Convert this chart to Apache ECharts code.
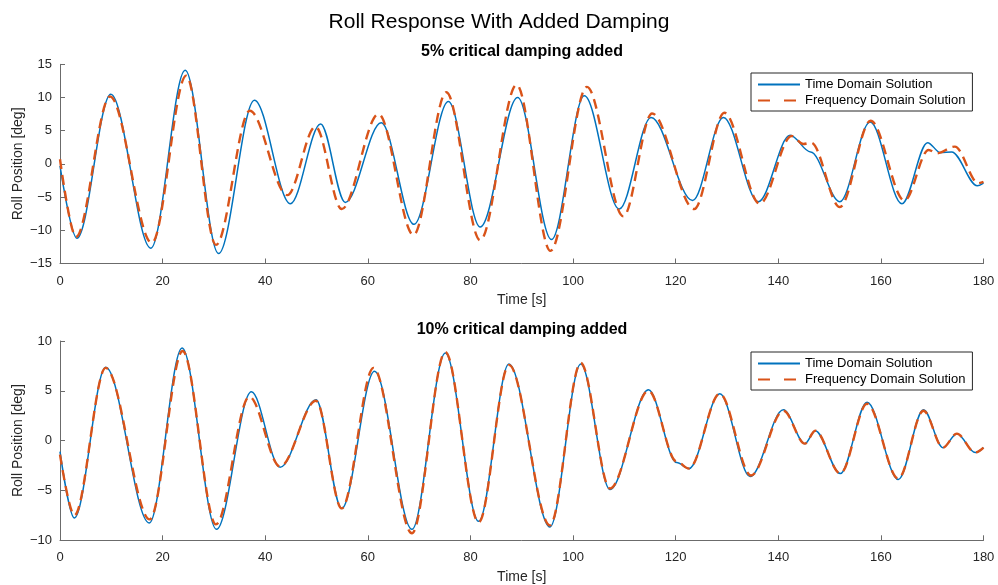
<!DOCTYPE html>
<html>
<head>
<meta charset="utf-8">
<title>Roll Response With Added Damping</title>
<script src="https://cdn.jsdelivr.net/npm/echarts@6/dist/echarts.min.js"></script>
<style>
  html, body { margin: 0; padding: 0; background: #fff; }
  #chart { width: 998px; height: 585px; }
</style>
</head>
<body>
<div id="chart"></div>
<script>
// Roll angle [deg] against time [s] as [time, value] pairs: the turning points
// (crests, troughs and flat shoulders) of each response.

// 5% critical damping added
const timeDomain5 = [
  [0, -0.3], [3.3, -11.2], [9.9, 10.5], [17.7, -12.7], [24.4, 14.1], [30.9, -13.5],
  [37.9, 9.6], [44.9, -6.0], [50.8, 6.0], [55.6, -5.8], [62.6, 6.2], [69.0, -9.1],
  [75.7, 9.4], [81.9, -9.5], [89.2, 10.0], [95.8, -11.4], [102.2, 10.25], [109.0, -6.8],
  [115.2, 7.0], [123.3, -5.5], [129.3, 7.0], [136.1, -5.7], [142.3, 4.3], [146.3, 1.8],
  [152.0, -5.7], [157.9, 6.3], [164.1, -6.0], [169.1, 3.2], [171.6, 1.7], [173.8, 1.8],
  [178.8, -3.3], [180, -2.9]
];
const freqDomain5 = [
  [0, 0.7], [3.1, -11.0], [9.75, 10.15], [17.9, -11.9], [24.6, 13.3], [30.4, -12.2],
  [37.0, 8.0], [44.3, -4.7], [49.8, 5.6], [54.9, -6.8], [62.1, 7.5], [68.9, -10.7],
  [75.3, 10.8], [81.9, -11.5], [89.0, 11.9], [95.6, -13.1], [102.7, 11.6], [109.8, -7.9],
  [115.4, 7.6], [123.6, -6.8], [129.5, 7.7], [136.4, -6.0], [142.6, 4.2], [144.9, 3.0],
  [146.4, 3.2], [152.0, -6.5], [158.0, 6.5], [164.6, -5.5], [169.3, 2.1], [170.9, 1.6],
  [174.4, 2.6], [179.0, -2.9], [180, -2.7]
];

// 10% critical damping added
const timeDomain10 = [
  [0, -1.1], [2.8, -7.76], [8.9, 7.36], [17.4, -8.26], [23.8, 9.3], [30.5, -8.9],
  [37.3, 4.9], [42.9, -2.68], [49.9, 4.1], [54.9, -6.8], [61.3, 6.96], [68.6, -8.9],
  [75.1, 8.8], [81.6, -8.1], [87.5, 7.7], [95.5, -8.66], [101.5, 7.7], [107.2, -4.9],
  [114.7, 5.1], [120.2, -2.2], [122.6, -2.8], [128.6, 4.7], [134.5, -3.6], [141.0, 3.1],
  [145.2, -0.3], [147.2, 1.0], [152.1, -3.3], [157.3, 3.85], [163.4, -3.9], [168.3, 3.1],
  [172.1, -0.7], [174.8, 0.7], [178.4, -1.2], [180, -0.7]
];
const freqDomain10 = [
  [0, -1.4], [2.8, -7.5], [8.9, 7.3], [17.5, -7.9], [23.9, 9.0], [30.4, -8.4],
  [36.9, 4.4], [42.9, -2.6], [49.9, 4.0], [54.9, -6.8], [61.1, 7.3], [68.6, -9.3],
  [75.1, 8.9], [81.6, -8.2], [87.5, 7.6], [95.5, -8.5], [101.5, 7.8], [107.2, -4.8],
  [114.7, 5.0], [120.2, -2.1], [122.6, -2.8], [128.6, 4.7], [134.7, -3.5], [141.0, 3.0],
  [145.2, -0.3], [147.2, 1.0], [152.1, -3.3], [157.3, 3.7], [163.4, -3.8], [168.3, 3.0],
  [172.1, -0.7], [174.8, 0.7], [178.4, -1.2], [180, -0.7]
];

const seriesNames = ['Time Domain Solution', 'Frequency Domain Solution'];
const mainTitle = 'Roll Response With Added Damping';
const panelTitles = ['5% critical damping added', '10% critical damping added'];
const xTitle = 'Time [s]';
const yTitle = 'Roll Position [deg]';

const FONT = "'Liberation Sans', Arial, Helvetica, sans-serif";
const TXT = '#262626';
const AX = '#6b6b6b';
const BLUE = '#0072BD';
const ORANGE = '#D95319';

// Negative tick values use a typographic minus sign.
const tickText = v => String(v).replace('-', '\u2212');

const chart = echarts.init(document.getElementById('chart'), null, { renderer: 'canvas' });

function xAxisFor(gridIndex) {
  return {
    gridIndex, type: 'value', min: 0, max: 180, interval: 20,
    name: xTitle, nameLocation: 'middle', nameGap: 30, nameMoveOverlap: false,
    nameTextStyle: { fontFamily: FONT, fontSize: 14, color: TXT },
    axisLine: { show: true, onZero: false, lineStyle: { color: AX, width: 1 } },
    axisTick: { show: true, inside: true, length: 5, lineStyle: { color: AX } },
    axisLabel: { fontFamily: FONT, fontSize: 13, color: TXT, margin: 11, formatter: tickText },
    splitLine: { show: false }
  };
}
function yAxisFor(gridIndex, lim) {
  return {
    gridIndex, type: 'value', min: -lim, max: lim, interval: 5,
    name: yTitle, nameLocation: 'middle', nameGap: 35, nameMoveOverlap: false,
    nameTextStyle: { fontFamily: FONT, fontSize: 14, color: TXT },
    axisLine: { show: true, onZero: false, lineStyle: { color: AX, width: 1 } },
    axisTick: { show: true, inside: true, length: 5, lineStyle: { color: AX } },
    axisLabel: { fontFamily: FONT, fontSize: 13, color: TXT, margin: 8, formatter: tickText },
    splitLine: { show: false }
  };
}
function legendFor(top) {
  return {
    data: [
      { name: seriesNames[0] },
      { name: seriesNames[1], lineStyle: { type: [12, 14] } }
    ],
    orient: 'vertical', left: 751, top,
    itemWidth: 42, itemHeight: 14, itemGap: 3,
    padding: [5, 7, 4, 6],
    borderColor: '#262626', borderWidth: 1, backgroundColor: '#ffffff',
    selectedMode: false,
    itemStyle: { opacity: 0 },
    textStyle: { fontFamily: FONT, fontSize: 13, color: '#000' }
  };
}
// Each listed point is a turning point, so the curve runs level through it.
function lineSeries(name, data, idx, dashed) {
  return {
    name, type: 'line', data, xAxisIndex: idx, yAxisIndex: idx,
    smooth: 0.34, smoothMonotone: 'x',
    symbol: 'none', showSymbol: false, z: dashed ? 3 : 2,
    lineStyle: dashed
      ? { color: ORANGE, width: 2.4, type: [10, 6] }
      : { color: BLUE, width: 1.5, type: 'solid' },
    itemStyle: { color: dashed ? ORANGE : BLUE }
  };
}

chart.setOption({
  animation: false,
  backgroundColor: '#ffffff',
  title: {
    text: mainTitle, left: 'center', top: 7,
    textStyle: { fontFamily: FONT, fontSize: 21, fontWeight: 'normal', color: '#000' }
  },
  graphic: [
    { type: 'text', x: 522, y: 52, style: { text: panelTitles[0], font: 'bold 16px ' + FONT, fill: '#000', align: 'center', verticalAlign: 'middle', textAlign: 'center', textVerticalAlign: 'middle' } },
    { type: 'text', x: 522, y: 330, style: { text: panelTitles[1], font: 'bold 16px ' + FONT, fill: '#000', align: 'center', verticalAlign: 'middle', textAlign: 'center', textVerticalAlign: 'middle' } }
  ],
  legend: [legendFor(73), legendFor(352)],
  grid: [
    { left: 60, top: 64.3, width: 923.5, height: 199.2, containLabel: false, outerBoundsMode: 'none' },
    { left: 60, top: 341, width: 923.5, height: 199.3, containLabel: false, outerBoundsMode: 'none' }
  ],
  xAxis: [xAxisFor(0), xAxisFor(1)],
  yAxis: [yAxisFor(0, 15), yAxisFor(1, 10)],
  series: [
    lineSeries(seriesNames[0], timeDomain5, 0, false),
    lineSeries(seriesNames[1], freqDomain5, 0, true),
    lineSeries(seriesNames[0], timeDomain10, 1, false),
    lineSeries(seriesNames[1], freqDomain10, 1, true)
  ]
});
</script>
</body>
</html>
